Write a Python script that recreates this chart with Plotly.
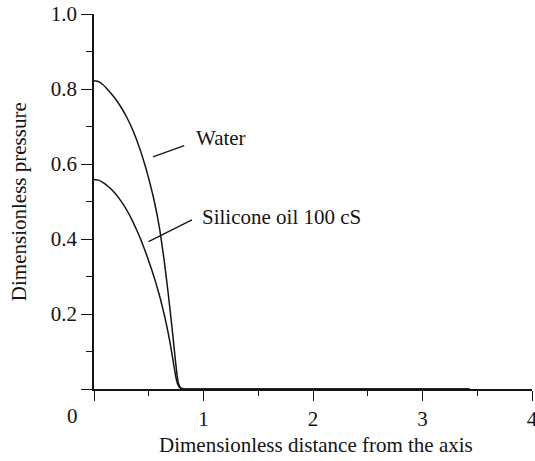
import plotly.graph_objects as go

# Radial pressure profiles (dimensionless distance, dimensionless pressure)
water_r = [0.0, 0.04, 0.08, 0.13, 0.19, 0.25, 0.30, 0.343, 0.39, 0.434, 0.475, 0.51,
           0.545, 0.571, 0.60, 0.64, 0.678, 0.714, 0.745, 0.762, 0.775, 0.79, 0.81, 0.84,
           1.2, 3.43]
water_p = [0.822, 0.820, 0.812, 0.797, 0.776, 0.750, 0.724, 0.698, 0.664, 0.627, 0.588, 0.550,
           0.508, 0.472, 0.426, 0.345, 0.254, 0.160, 0.072, 0.030, 0.012, 0.004, 0.001, 0.0,
           0.0, 0.0]

oil_r = [0.0, 0.04, 0.08, 0.13, 0.18, 0.222, 0.27, 0.313, 0.35, 0.39, 0.435, 0.48, 0.525,
         0.571, 0.61, 0.648, 0.675, 0.70, 0.718, 0.733, 0.745, 0.755, 0.768, 0.785, 0.81,
         1.2, 3.43]
oil_p = [0.559, 0.557, 0.551, 0.540, 0.526, 0.511, 0.491, 0.470, 0.449, 0.424, 0.393, 0.358, 0.320,
         0.277, 0.236, 0.190, 0.153, 0.114, 0.083, 0.056, 0.036, 0.022, 0.010, 0.003, 0.0,
         0.0, 0.0]

x_ticks = [0, 1, 2, 3, 4]
x_labels = ["", "1", "2", "3", "4"]
y_ticks = [0, 0.2, 0.4, 0.6, 0.8, 1.0]
y_labels = ["", "0.2", "0.4", "0.6", "0.8", "1.0"]

series_names = ["Water", "Silicone oil 100 cS"]

FONT = "Liberation Serif, Times New Roman, serif"
INK = "#141414"

fig = go.Figure()
for r, p, name in [(water_r, water_p, series_names[0]), (oil_r, oil_p, series_names[1])]:
    fig.add_trace(go.Scatter(x=r, y=p, mode="lines", name=name,
                             line=dict(color=INK, width=1.5, shape="spline", smoothing=0.4),
                             showlegend=False, cliponaxis=False))

# leader lines pointing from the labels to their curves
leaders = [((0.538, 0.619), (0.824, 0.649)), ((0.498, 0.393), (0.894, 0.451))]
for (x0, y0), (x1, y1) in leaders:
    fig.add_shape(type="line", x0=x0, y0=y0, x1=x1, y1=y1, xref="x", yref="y",
                  line=dict(color=INK, width=1.2))

fig.add_annotation(x=0.909, y=0.669, text=series_names[0], showarrow=False,
                   xanchor="left", yanchor="middle", font=dict(size=21, color=INK, family=FONT))
fig.add_annotation(x=0.970, y=0.459, text=series_names[1], showarrow=False,
                   xanchor="left", yanchor="middle", font=dict(size=21, color=INK, family=FONT))

# shared origin label
fig.add_annotation(x=0, y=0, text="0", showarrow=False, xanchor="center", yanchor="middle",
                   xshift=-22, yshift=-27, font=dict(size=21, color=INK, family=FONT))

# axis titles
fig.add_annotation(x=0.5, y=-0.149, xref="paper", yref="paper",
                   text="Dimensionless distance from the axis", showarrow=False,
                   xanchor="center", yanchor="middle", xshift=3,
                   font=dict(size=21, color=INK, family=FONT))
fig.add_annotation(x=-0.172, y=0.5, xref="paper", yref="paper",
                   text="Dimensionless pressure", showarrow=False, textangle=-90,
                   xanchor="center", yanchor="middle",
                   font=dict(size=21, color=INK, family=FONT))

fig.update_xaxes(range=[0, 4], tickvals=x_ticks, ticktext=x_labels, ticks="outside",
                 ticklen=10, tickwidth=1.3, tickcolor=INK, showline=True, linecolor=INK,
                 linewidth=1.8, showgrid=False, zeroline=False, automargin=False,
                 ticklabeloverflow="allow",
                 tickfont=dict(size=21, color=INK, family=FONT),
                 minor=dict(dtick=0.5, ticks="outside", ticklen=5, tickwidth=1.3,
                            tickcolor=INK, showgrid=False))
fig.update_yaxes(range=[0, 1.0], tickvals=y_ticks, ticktext=y_labels, ticks="outside",
                 ticklen=11, tickwidth=1.3, tickcolor=INK, showline=True, linecolor=INK,
                 linewidth=1.8, showgrid=False, zeroline=False, automargin=False,
                 tickfont=dict(size=21, color=INK, family=FONT),
                 minor=dict(dtick=0.1, ticks="outside", ticklen=6, tickwidth=1.3,
                            tickcolor=INK, showgrid=False))

fig.update_layout(width=535, height=461, margin=dict(l=94, r=3, t=14, b=72),
                  paper_bgcolor="white", plot_bgcolor="white",
                  font=dict(family=FONT, color=INK))

fig.write_html("out.html")
